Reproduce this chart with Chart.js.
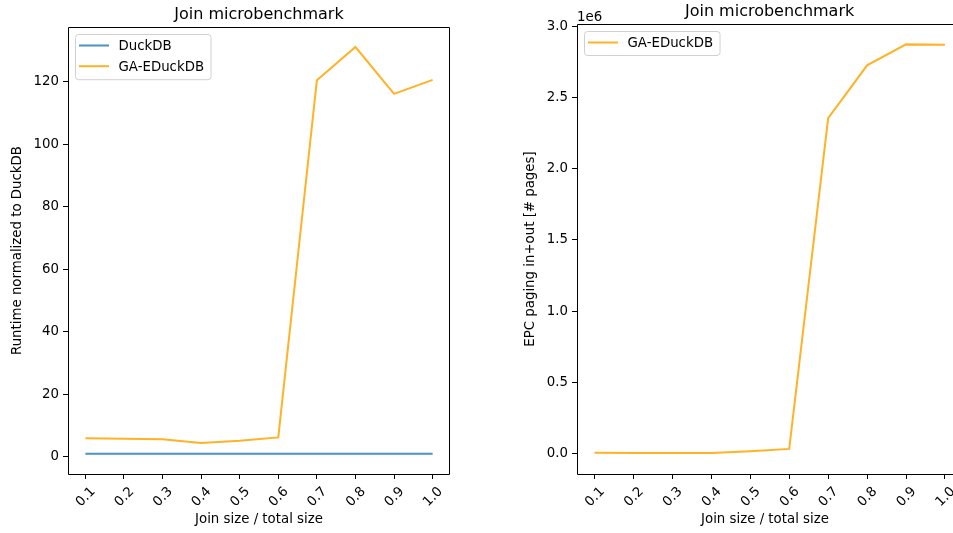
<!DOCTYPE html>
<html>
<head>
<meta charset="utf-8">
<script src="https://cdn.jsdelivr.net/npm/chart.js@4/dist/chart.umd.min.js"></script>
<style>
  html, body { margin: 0; padding: 0; background: #fff; overflow: hidden; width: 953px; height: 533px; }
  .box { position: absolute; top: 0; }
</style>
</head>
<body>
<div class="box" style="left:0px;width:460px;height:533px;"><canvas id="c1" width="460" height="533"></canvas></div>
<div class="box" style="left:490px;width:463px;height:533px;"><canvas id="c2" width="463" height="533"></canvas></div>
<script>
// ---- data ----
const joinFractions = [0.1, 0.2, 0.3, 0.4, 0.5, 0.6, 0.7, 0.8, 0.9, 1.0];
const duckdbRuntime = [1, 1, 1, 1, 1, 1, 1, 1, 1, 1];
const gaeRuntime = [5.9, 5.8, 5.6, 4.4, 5.1, 6.2, 120.5, 131.1, 116.1, 120.6];
const gaePaging = [6000, 5000, 5000, 5000, 16000, 33000, 2355000, 2725000, 2872000, 2869000];
const runtimeTicks = [0, 20, 40, 60, 80, 100, 120];
const pagingTicks = [0, 500000, 1000000, 1500000, 2000000, 2500000, 3000000];
const xTicks = [0.1, 0.2, 0.3, 0.4, 0.5, 0.6, 0.7, 0.8, 0.9, 1.0];
const titleText = 'Join microbenchmark';
const xTitle = 'Join size / total size';
const yTitleLeft = 'Runtime normalized to DuckDB';
const yTitleRight = 'EPC paging in+out [# pages]';
const seriesNames = ['DuckDB', 'GA-EDuckDB'];

const FONT = 'DejaVu Sans';
const BLUE = 'rgba(31,119,180,0.8)';
const ORANGE = 'rgba(255,165,0,0.85)';

const toPts = (ys) => joinFractions.map((x, i) => ({x: x, y: ys[i]}));

// Frame, title, offset text and legend drawn over the plot area
const decorPlugin = {
  id: 'decor',
  afterDatasetsDraw(chart, args, opts) {
    const ctx = chart.ctx;
    const a = chart.chartArea;
    ctx.save();
    // spines
    ctx.strokeStyle = '#000';
    ctx.lineWidth = 1;
    const L = Math.round(a.left) + 0.5, T = Math.round(a.top) + 0.5;
    const R = Math.round(a.right) - 0.5, B = Math.round(a.bottom) + 0.5;
    ctx.beginPath();
    ctx.moveTo(L, B); ctx.lineTo(L, T); ctx.lineTo(opts.openRight ? a.right : R, T);
    if (!opts.openRight) ctx.lineTo(R, B);
    ctx.moveTo(opts.openRight ? a.right : R, B); ctx.lineTo(L, B);
    ctx.stroke();
    // title
    ctx.fillStyle = '#000';
    ctx.font = '16px "' + FONT + '"';
    ctx.textAlign = 'center';
    ctx.textBaseline = 'alphabetic';
    ctx.fillText(opts.title, opts.titleX != null ? opts.titleX : (a.left + a.right) / 2, a.top - 8);
    // offset text
    if (opts.offsetText) {
      ctx.font = '13.33px "' + FONT + '"';
      ctx.textAlign = 'left';
      ctx.fillText(opts.offsetText, a.left, a.top - 3.5);
    }
    // legend
    const items = chart.data.datasets;
    ctx.font = '13.33px "' + FONT + '"';
    let maxW = 0;
    items.forEach(d => { maxW = Math.max(maxW, ctx.measureText(d.label).width); });
    const fx = a.left + 7.5, fy = a.top + 7.5;
    const rowH = 20.7;
    const fw = 43 + maxW + 7;
    const fh = items.length === 1 ? 24 : 11 + (items.length - 1) * rowH + 13.5;
    ctx.beginPath();
    const r = 3;
    ctx.moveTo(fx + r, fy);
    ctx.lineTo(fx + fw - r, fy); ctx.arcTo(fx + fw, fy, fx + fw, fy + r, r);
    ctx.lineTo(fx + fw, fy + fh - r); ctx.arcTo(fx + fw, fy + fh, fx + fw - r, fy + fh, r);
    ctx.lineTo(fx + r, fy + fh); ctx.arcTo(fx, fy + fh, fx, fy + fh - r, r);
    ctx.lineTo(fx, fy + r); ctx.arcTo(fx, fy, fx + r, fy, r);
    ctx.closePath();
    ctx.fillStyle = 'rgba(255,255,255,0.8)';
    ctx.fill();
    ctx.strokeStyle = '#d0d0d0';
    ctx.lineWidth = 1;
    ctx.stroke();
    items.forEach((d, i) => {
      const y = fy + 11 + i * rowH;
      ctx.strokeStyle = d.borderColor;
      ctx.lineWidth = 2;
      ctx.beginPath();
      ctx.moveTo(fx + 3.5, y);
      ctx.lineTo(fx + 33.5, y);
      ctx.stroke();
      ctx.fillStyle = '#000';
      ctx.textAlign = 'left';
      ctx.textBaseline = 'middle';
      ctx.fillText(d.label, fx + 43, y + 1);
    });
    ctx.restore();
  }
};

function makeChart(id, datasets, cfg) {
  return new Chart(document.getElementById(id), {
    type: 'line',
    data: { datasets: datasets },
    plugins: [decorPlugin],
    options: {
      responsive: false,
      animation: false,
      devicePixelRatio: 1,
      layout: { padding: { left: 0, top: cfg.top, right: cfg.right, bottom: 0 } },
      plugins: {
        legend: { display: false },
        tooltip: { enabled: false },
        title: { display: false },
        decor: { title: titleText, offsetText: cfg.offsetText, openRight: cfg.openRight, titleX: cfg.titleX }
      },
      elements: { point: { radius: 0 }, line: { borderWidth: 2, tension: 0 } },
      scales: {
        x: {
          type: 'linear',
          min: 0.055, max: cfg.xmax,
          afterBuildTicks: s => { s.ticks = xTicks.map(v => ({value: v})); },
          afterFit: s => { s.height = 59; s.paddingLeft = 0; s.paddingRight = 0; s.paddingTop = 0; s.paddingBottom = 0; },
          border: { display: false },
          grid: { display: true, drawOnChartArea: false, drawTicks: true, tickLength: 5, color: '#000', lineWidth: 1 },
          ticks: {
            minRotation: 45, maxRotation: 45, padding: 5, labelOffset: 8,
            color: '#000', font: { family: FONT, size: 13.33 },
            callback: v => v.toFixed(1)
          },
          title: { display: true, text: xTitle, color: '#000', font: { family: FONT, size: 13.33 }, padding: { top: 0, bottom: 5 } }
        },
        y: {
          type: 'linear',
          min: cfg.ymin, max: cfg.ymax,
          afterBuildTicks: s => { s.ticks = cfg.yTicks.map(v => ({value: v})); },
          afterFit: s => { s.width = cfg.yWidth; s.paddingLeft = 0; s.paddingRight = 0; s.paddingTop = 0; s.paddingBottom = 0; },
          border: { display: false },
          grid: { display: true, drawOnChartArea: false, drawTicks: true, tickLength: 5, color: '#000', lineWidth: 1 },
          ticks: {
            padding: 4, color: '#000', font: { family: FONT, size: 13.33 },
            callback: cfg.yFmt
          },
          title: { display: true, text: cfg.yTitle, color: '#000', font: { family: FONT, size: 13.33 }, padding: { top: cfg.yTitlePad, bottom: 0 } }
        }
      }
    }
  });
}

makeChart('c1', [
  { label: seriesNames[0], data: toPts(duckdbRuntime), borderColor: BLUE, backgroundColor: BLUE, fill: false },
  { label: seriesNames[1], data: toPts(gaeRuntime), borderColor: ORANGE, backgroundColor: ORANGE, fill: false }
], {
  top: 27, right: 10, xmax: 1.045, ymin: -5.5, ymax: 137.5, yTicks: runtimeTicks, yWidth: 68,
  yTitle: yTitleLeft, yTitlePad: 9.5, yFmt: v => String(v), offsetText: null, openRight: false, titleX: null
});

// right panel is cut off by the picture edge, as in the reference
makeChart('c2', [
  { label: seriesNames[1], data: toPts(gaePaging), borderColor: ORANGE, backgroundColor: ORANGE, fill: false }
], {
  top: 24, right: 0, xmax: 1.0206, ymin: -143000, ymax: 3015000, yTicks: pagingTicks, yWidth: 87,
  yTitle: yTitleRight, yTitlePad: 33, yFmt: v => (v / 1e6).toFixed(1), offsetText: '1e6', openRight: true, titleX: 279.6
});
</script>
</body>
</html>
